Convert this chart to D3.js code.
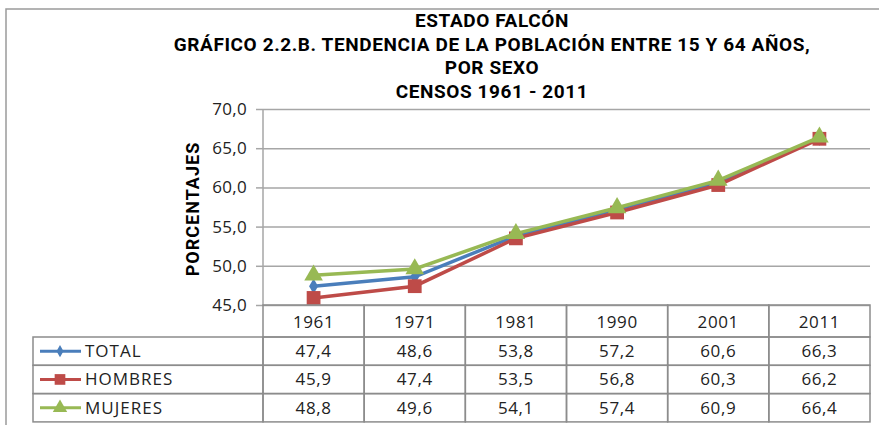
<!DOCTYPE html>
<html lang="es">
<head>
<meta charset="UTF-8">
<title>Estado Falcón - Población entre 15 y 64 años</title>
<script src="https://d3js.org/d3.v7.min.js"></script>
<style>
    body { margin: 0; background: #fff; }
    svg { display: block; font-family: "Open Sans", "Noto Sans", sans-serif; }
    .title { font-family: "Roboto", sans-serif; font-weight: bold; font-size: 19px; letter-spacing: 0.6px; }
    .grid line { stroke: #a6a6a6; stroke-width: 1.5; }
    .cell { fill: none; stroke: #8c8c8c; stroke-width: 1.5; }
    .tbl-text { font-size: 17px; letter-spacing: 0.6px; fill: #222; }
</style>
</head>
<body>
<div id="chart"></div>
<script>
    const years = ["1961", "1971", "1981", "1990", "2001", "2011"];
    const seriesNames = ["TOTAL", "HOMBRES", "MUJERES"];
    const total = [47.4, 48.6, 53.8, 57.2, 60.6, 66.3];
    const hombres = [45.9, 47.4, 53.5, 56.8, 60.3, 66.2];
    const mujeres = [48.8, 49.6, 54.1, 57.4, 60.9, 66.4];
    const yTicks = [45, 50, 55, 60, 65, 70];
    const titleLines = ["ESTADO FALCÓN", "GRÁFICO 2.2.B. TENDENCIA DE LA POBLACIÓN ENTRE 15 Y 64 AÑOS,", "POR SEXO", "CENSOS 1961 - 2011"];

    const series = [
        {name: seriesNames[0], values: total, color: "#4a7ebb", symbol: d3.symbolDiamond, size: 70},
        {name: seriesNames[1], values: hombres, color: "#be4b48", symbol: d3.symbolSquare, size: 190},
        {name: seriesNames[2], values: mujeres, color: "#98b954", symbol: d3.symbolTriangle, size: 150}
    ];

    const W = 879, H = 425;
    const plot = {left: 263, right: 870, top: 109, bottom: 305};
    const table = {left: 33, headBottom: 337, rowH: 28.3};

    const svg = d3.select("#chart").append("svg")
        .attr("width", W).attr("height", H);

    // outer frame of the chart
    svg.append("rect")
        .attr("x", 6).attr("y", 9).attr("width", W + 20).attr("height", H + 20)
        .attr("fill", "none").attr("stroke", "#9a9a9a").attr("stroke-width", 1.5);

    const x = d3.scaleBand().domain(years).range([plot.left, plot.right]);
    const y = d3.scaleLinear().domain([45, 70]).range([plot.bottom, plot.top]);

    // title
    svg.append("g").selectAll("text")
        .data(titleLines)
        .join("text")
        .attr("class", "title")
        .attr("x", 492)
        .attr("y", (d, i) => 27 + i * 23.5)
        .attr("text-anchor", "middle")
        .text(d => d);

    // grid lines + y axis
    const yAxis = svg.append("g")
        .attr("class", "grid")
        .attr("transform", `translate(${plot.left},0)`)
        .call(d3.axisLeft(y).tickValues(yTicks).tickSize(-(plot.right - plot.left))
            .tickFormat(d => d3.format(".1f")(d).replace(".", ",")))
        .call(g => g.select(".domain").remove());
    yAxis.selectAll("text")
        .attr("x", -16)
        .attr("fill", "#222")
        .style("font-size", "17px")
        .style("letter-spacing", "0.3px")
        .style("font-family", "'Open Sans', sans-serif");
    yAxis.selectAll(".tick").append("line")
        .attr("x1", -7).attr("x2", 0);

    svg.append("line")
        .attr("x1", plot.left).attr("x2", plot.left)
        .attr("y1", plot.top).attr("y2", plot.bottom)
        .attr("stroke", "#a6a6a6").attr("stroke-width", 1.5);

    svg.append("text")
        .attr("class", "title")
        .attr("transform", `translate(199,${(plot.top + plot.bottom) / 2 + 2}) rotate(-90)`)
        .attr("text-anchor", "middle")
        .style("font-size", "18px")
        .style("letter-spacing", "1px")
        .text("PORCENTAJES");

    // lines and markers
    const line = d3.line()
        .x((d, i) => x(years[i]) + x.bandwidth() / 2)
        .y(d => y(d));

    series.forEach(s => {
        svg.append("path")
            .datum(s.values)
            .attr("fill", "none")
            .attr("stroke", s.color)
            .attr("stroke-width", 3.5)
            .attr("d", line);
        svg.append("g").selectAll("path")
            .data(s.values)
            .join("path")
            .attr("transform", (d, i) => `translate(${x(years[i]) + x.bandwidth() / 2},${y(d)})`)
            .attr("d", d3.symbol().type(s.symbol).size(s.size))
            .attr("fill", s.color);
    });

    // data table
    const tbl = svg.append("g");
    const rowY = i => table.headBottom + i * table.rowH;

    years.forEach(yr => {
        tbl.append("rect")
            .attr("class", "cell")
            .attr("x", x(yr)).attr("y", plot.bottom)
            .attr("width", x.bandwidth()).attr("height", table.headBottom - plot.bottom);
        tbl.append("text")
            .attr("class", "tbl-text")
            .attr("x", x(yr) + x.bandwidth() / 2)
            .attr("y", plot.bottom + 23)
            .attr("text-anchor", "middle")
            .text(yr);
    });

    series.forEach((s, r) => {
        tbl.append("rect")
            .attr("class", "cell")
            .attr("x", table.left).attr("y", rowY(r))
            .attr("width", plot.left - table.left).attr("height", table.rowH);
        tbl.append("line")
            .attr("x1", table.left + 7).attr("x2", table.left + 48)
            .attr("y1", rowY(r) + table.rowH / 2).attr("y2", rowY(r) + table.rowH / 2)
            .attr("stroke", s.color).attr("stroke-width", 3);
        tbl.append("path")
            .attr("transform", `translate(${table.left + 27},${rowY(r) + table.rowH / 2})`)
            .attr("d", d3.symbol().type(s.symbol).size(s.size * 0.6))
            .attr("fill", s.color);
        tbl.append("text")
            .attr("class", "tbl-text")
            .attr("x", table.left + 52)
            .attr("y", rowY(r) + 20)
            .style("letter-spacing", "1px")
            .text(s.name);

        s.values.forEach((v, i) => {
            tbl.append("rect")
                .attr("class", "cell")
                .attr("x", x(years[i])).attr("y", rowY(r))
                .attr("width", x.bandwidth()).attr("height", table.rowH);
            tbl.append("text")
                .attr("class", "tbl-text")
                .attr("x", x(years[i]) + x.bandwidth() / 2)
                .attr("y", rowY(r) + 20)
                .attr("text-anchor", "middle")
                .text(d3.format(".1f")(v).replace(".", ","));
        });
    });
</script>
</body>
</html>
